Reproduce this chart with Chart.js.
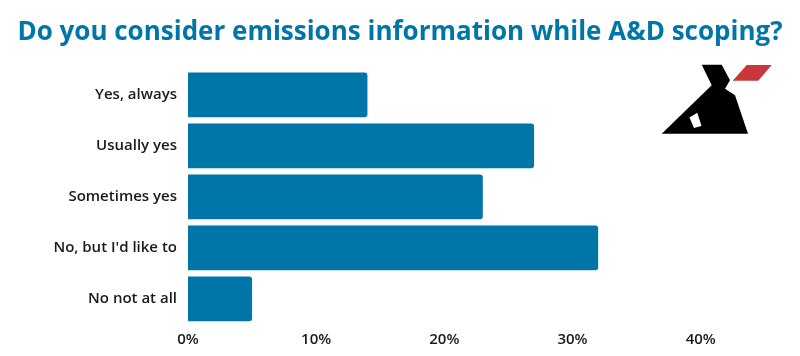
<!DOCTYPE html>
<html>
<head>
<meta charset="utf-8">
<script src="https://cdn.jsdelivr.net/npm/chart.js@4.4.0/dist/chart.umd.min.js"></script>
<style>
  html, body { margin: 0; padding: 0; background: #ffffff; }
  #wrap { width: 800px; height: 356px; position: relative; }
</style>
</head>
<body>
<div id="wrap"><canvas id="c" width="800" height="356"></canvas></div>
<script>
const titleText = "Do you consider emissions information while A&D scoping?";
const categories = ["Yes, always", "Usually yes", "Sometimes yes", "No, but I'd like to", "No not at all"];
const shares = [14, 27, 23, 32, 5];
const tickValues = [0, 10, 20, 30, 40];

const FONT = "'Open Sans', 'Noto Sans', sans-serif";
const BLUE = "#0076A8";

const logoPlugin = {
  id: 'logo',
  afterDraw(chart) {
    const ctx = chart.ctx;
    const poly = (pts, col) => {
      ctx.fillStyle = col;
      ctx.beginPath();
      pts.forEach((p, i) => i ? ctx.lineTo(p[0], p[1]) : ctx.moveTo(p[0], p[1]));
      ctx.closePath();
      ctx.fill();
    };
    ctx.save();
    poly([[701.7,64.7],[721.7,64.7],[730,80.3],[725,88.7],[735,95.3],[748,133.7],[661.7,133.7],[711.7,85.3]], '#000000');
    poly([[689.5,117.5],[697.3,112.7],[701.5,126],[694,128]], '#ffffff');
    poly([[746.7,65],[771.7,65],[758.3,80.7],[732.7,80.7]], '#C8373A');
    ctx.restore();
  }
};

new Chart(document.getElementById('c'), {
  type: 'bar',
  data: {
    labels: categories,
    datasets: [{
      data: shares,
      backgroundColor: BLUE,
      borderRadius: 3,
      borderSkipped: 'start',
      barPercentage: 0.876,
      categoryPercentage: 1.0
    }]
  },
  plugins: [logoPlugin],
  options: {
    indexAxis: 'y',
    responsive: false,
    animation: false,
    devicePixelRatio: 1,
    layout: { padding: { left: 0, right: 0, top: 0, bottom: 0.7 } },
    plugins: {
      legend: { display: false },
      tooltip: { enabled: false },
      title: {
        display: true,
        align: 'center',
        text: titleText,
        color: BLUE,
        font: { family: FONT, size: 26, weight: 'bold', lineHeight: 1.2 },
        padding: { top: 16.5, bottom: 21.7 }
      }
    },
    scales: {
      x: {
        type: 'linear',
        min: 0,
        max: 40,
        afterBuildTicks(scale) { scale.ticks = tickValues.map(v => ({ value: v })); },
        grid: { display: false, drawTicks: false },
        border: { display: false },
        ticks: {
          padding: 6.5,
          color: '#1a1a1a',
          font: { family: FONT, size: 15, weight: '600' },
          callback: v => v + '%'
        }
      },
      y: {
        grid: { display: false, drawTicks: false },
        border: { display: false },
        afterFit(scale) { scale.width = 188; },
        ticks: {
          padding: 11,
          color: '#1a1a1a',
          font: { family: FONT, size: 15, weight: '600' }
        }
      },
      yRight: {
        type: 'category',
        position: 'right',
        labels: categories,
        grid: { display: false, drawTicks: false },
        border: { display: false },
        ticks: { display: false },
        afterFit(scale) { scale.width = 99.3; }
      }
    }
  }
});
</script>
</body>
</html>
